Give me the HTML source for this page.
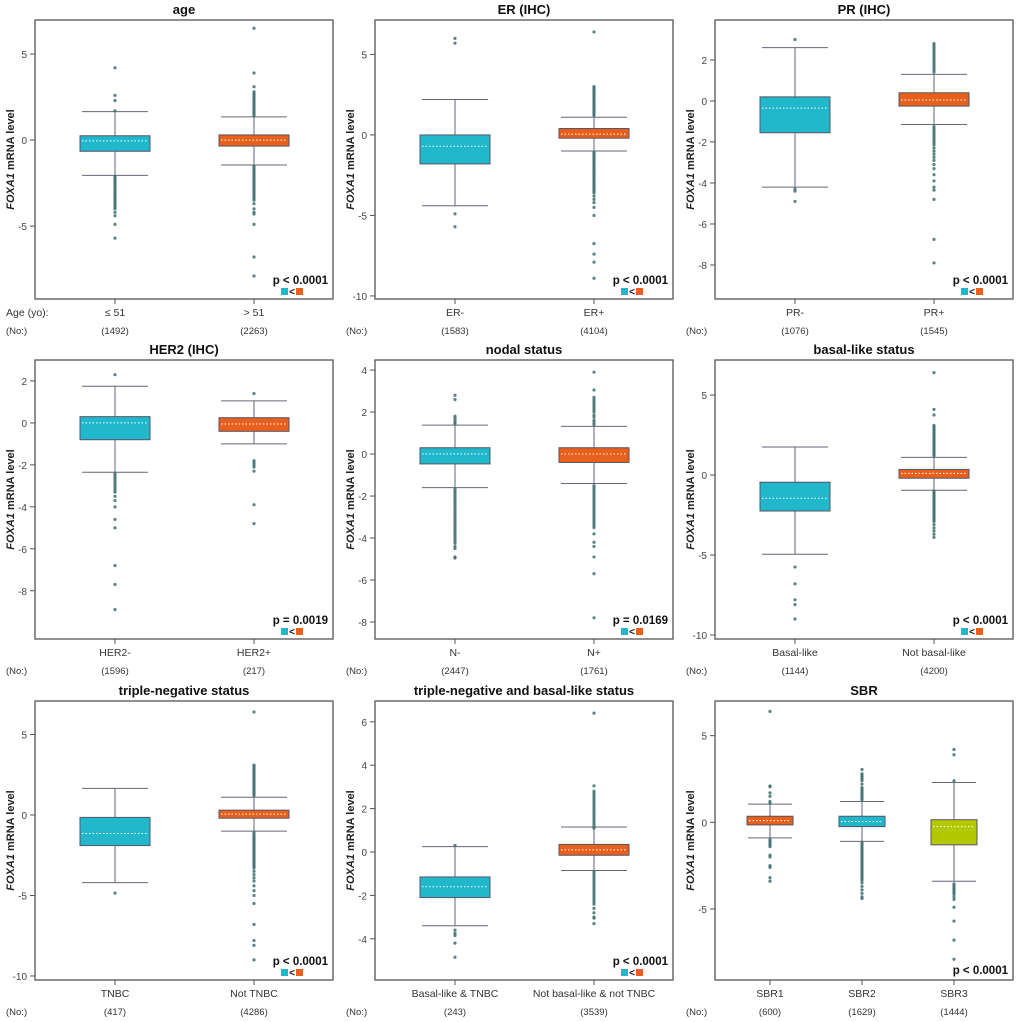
<!DOCTYPE html>
<html><head><meta charset="utf-8">
<style>
html,body{margin:0;padding:0;background:#fff;}
svg{display:block;font-family:"Liberation Sans",Arial,sans-serif;}
</style></head>
<body>
<svg id="fig" width="1020" height="1022" viewBox="0 0 1020 1022" xmlns="http://www.w3.org/2000/svg"></svg>
<script>
const TEAL="#22b8cc", ORANGE="#e8601c", GREEN="#b4c800";
const titles=["age","ER (IHC)","PR (IHC)","HER2 (IHC)","nodal status","basal-like status","triple-negative status","triple-negative and basal-like status","SBR"];
const domains=[[-9.24,6.98],[-10.19,7.14],[-9.66,3.95],[-10.3,3.0],[-8.81,4.48],[-10.25,7.19],[-10.25,7.08],[-5.9,6.96],[-9.1,7.0]];
const ticks=[[-5,0,5],[-10,-5,0,5],[-8,-6,-4,-2,0,2],[-8,-6,-4,-2,0,2],[-8,-6,-4,-2,0,2,4],[-10,-5,0,5],[-10,-5,0,5],[-4,-2,0,2,4,6],[-5,0,5]];
const groupLabels=[["≤ 51","> 51"],["ER-","ER+"],["PR-","PR+"],["HER2-","HER2+"],["N-","N+"],["Basal-like","Not basal-like"],["TNBC","Not TNBC"],["Basal-like & TNBC","Not basal-like & not TNBC"],["SBR1","SBR2","SBR3"]];
const counts=[["(1492)","(2263)"],["(1583)","(4104)"],["(1076)","(1545)"],["(1596)","(217)"],["(2447)","(1761)"],["(1144)","(4200)"],["(417)","(4286)"],["(243)","(3539)"],["(600)","(1629)","(1444)"]];
const pvals=["p < 0.0001","p < 0.0001","p < 0.0001","p = 0.0019","p = 0.0169","p < 0.0001","p < 0.0001","p < 0.0001","p < 0.0001"];
// stats per group: [lowWhisker, q1, median, q3, highWhisker]
const stats=[
 [[-2.05,-0.65,-0.05,0.25,1.65],[-1.45,-0.35,0,0.3,1.35]],
 [[-4.4,-1.8,-0.7,0,2.2],[-1.0,-0.2,0.05,0.4,1.1]],
 [[-4.2,-1.55,-0.35,0.2,2.6],[-1.15,-0.25,0.05,0.4,1.3]],
 [[-2.35,-0.8,0,0.3,1.75],[-1.0,-0.4,-0.05,0.25,1.05]],
 [[-1.6,-0.47,0,0.3,1.38],[-1.4,-0.4,0,0.3,1.32]],
 [[-4.95,-2.25,-1.45,-0.45,1.75],[-0.95,-0.2,0.1,0.35,1.1]],
 [[-4.2,-1.9,-1.15,-0.15,1.65],[-1.0,-0.2,0.05,0.3,1.1]],
 [[-3.4,-2.1,-1.6,-1.15,0.25],[-0.85,-0.15,0.1,0.35,1.15]],
 [[-0.9,-0.15,0.1,0.35,1.05],[-1.1,-0.25,0.05,0.35,1.2],[-3.4,-1.3,-0.25,0.15,2.3]]
];
const outliers=[
 [[4.2,2.6,2.3,1.7,-2.1,-2.2,-2.3,-2.4,-2.5,-2.6,-2.7,-2.8,-2.9,-3.0,-3.1,-3.2,-3.3,-3.4,-3.5,-3.6,-3.7,-3.8,-3.9,-4.0,-4.2,-4.4,-4.9,-5.7],
  [6.5,3.9,3.1,2.8,2.7,2.6,2.5,2.4,2.3,2.2,2.1,2.0,1.9,1.8,1.7,1.6,1.5,1.4,-1.5,-1.6,-1.7,-1.8,-1.9,-2.0,-2.1,-2.2,-2.3,-2.4,-2.5,-2.6,-2.7,-2.8,-2.9,-3.0,-3.1,-3.2,-3.3,-3.4,-3.5,-3.7,-4.0,-4.2,-4.3,-4.9,-6.8,-7.9]],
 [[6.0,5.7,-4.9,-5.7],
  [6.4,3.0,2.9,2.8,2.7,2.6,2.5,2.4,2.3,2.2,2.1,2.0,1.9,1.8,1.7,1.6,1.5,1.4,1.3,1.2,-1.1,-1.2,-1.3,-1.4,-1.5,-1.6,-1.7,-1.8,-1.9,-2.0,-2.1,-2.2,-2.3,-2.4,-2.5,-2.6,-2.7,-2.8,-2.9,-3.0,-3.1,-3.2,-3.3,-3.4,-3.5,-3.6,-3.8,-4.0,-4.2,-4.5,-5.0,-6.75,-7.4,-7.9,-8.9]],
 [[3.0,-4.3,-4.4,-4.9],
  [2.8,2.7,2.6,2.5,2.4,2.3,2.2,2.1,2.0,1.9,1.8,1.7,1.6,1.5,1.4,-1.25,-1.35,-1.45,-1.55,-1.65,-1.75,-1.85,-1.95,-2.05,-2.15,-2.3,-2.45,-2.6,-2.75,-2.9,-3.1,-3.3,-3.6,-3.9,-4.2,-4.35,-4.8,-6.75,-7.9]],
 [[2.3,-2.4,-2.5,-2.6,-2.7,-2.8,-2.9,-3.0,-3.1,-3.2,-3.3,-3.5,-3.7,-4.0,-4.6,-5.0,-6.8,-7.7,-8.9],
  [1.4,-1.8,-1.9,-2.0,-2.1,-2.3,-3.9,-4.8]],
 [[2.8,2.6,1.8,1.7,1.6,1.5,1.45,-1.65,-1.75,-1.85,-1.95,-2.05,-2.15,-2.25,-2.35,-2.45,-2.55,-2.65,-2.75,-2.85,-2.95,-3.05,-3.15,-3.25,-3.35,-3.45,-3.55,-3.65,-3.75,-3.85,-3.95,-4.05,-4.15,-4.25,-4.4,-4.5,-4.9,-4.95],
  [3.9,3.05,2.7,2.6,2.5,2.4,2.3,2.2,2.1,2.0,1.85,1.75,1.6,1.5,1.4,-1.5,-1.6,-1.7,-1.8,-1.9,-2.0,-2.1,-2.2,-2.3,-2.4,-2.5,-2.6,-2.7,-2.8,-2.9,-3.0,-3.1,-3.2,-3.3,-3.4,-3.5,-3.8,-4.2,-4.4,-4.9,-5.7,-7.8]],
 [[-5.75,-6.8,-7.8,-8.1,-9.0],
  [6.4,4.1,3.75,3.1,3.0,2.9,2.8,2.7,2.6,2.5,2.4,2.3,2.2,2.1,2.0,1.9,1.8,1.7,1.6,1.5,1.4,1.3,1.2,-1.0,-1.1,-1.2,-1.3,-1.4,-1.5,-1.6,-1.7,-1.8,-1.9,-2.0,-2.1,-2.2,-2.3,-2.4,-2.5,-2.6,-2.7,-2.8,-2.9,-3.1,-3.3,-3.5,-3.7,-3.9]],
 [[-4.85],
  [6.4,3.1,3.0,2.9,2.8,2.7,2.6,2.5,2.4,2.3,2.2,2.1,2.0,1.9,1.8,1.7,1.6,1.5,1.4,1.3,1.2,-1.1,-1.2,-1.3,-1.4,-1.5,-1.6,-1.7,-1.8,-1.9,-2.0,-2.1,-2.2,-2.3,-2.4,-2.5,-2.6,-2.7,-2.8,-2.9,-3.0,-3.1,-3.2,-3.3,-3.5,-3.7,-3.9,-4.1,-4.4,-4.7,-5.0,-5.5,-6.8,-7.8,-8.1,-9.0]],
 [[0.3,-3.6,-3.75,-3.85,-4.2,-4.85],
  [6.4,3.05,2.8,2.7,2.6,2.5,2.4,2.3,2.2,2.1,2.0,1.9,1.8,1.7,1.6,1.5,1.4,1.3,1.2,1.1,-0.9,-1.0,-1.1,-1.2,-1.3,-1.4,-1.5,-1.6,-1.7,-1.8,-1.9,-2.0,-2.1,-2.2,-2.3,-2.4,-2.6,-2.8,-3.0,-3.05,-3.3]],
 [[6.4,2.1,2.05,1.7,1.5,1.2,1.1,-1.0,-1.1,-1.2,-1.3,-1.4,-1.9,-2.0,-2.5,-2.6,-3.2,-3.4],
  [3.05,2.8,2.7,2.6,2.5,2.4,2.2,2.0,1.9,1.8,1.7,1.6,1.5,1.4,1.3,-1.15,-1.25,-1.35,-1.45,-1.55,-1.65,-1.75,-1.85,-1.95,-2.05,-2.15,-2.25,-2.35,-2.45,-2.55,-2.65,-2.75,-2.85,-2.95,-3.05,-3.15,-3.25,-3.35,-3.5,-3.7,-3.9,-4.1,-4.3,-4.4],
  [4.2,3.9,2.4,-3.55,-3.65,-3.75,-3.85,-3.95,-4.05,-4.15,-4.3,-4.45,-4.9,-5.7,-6.8,-7.9]]
];
const groupColors=[[TEAL,ORANGE],[TEAL,ORANGE],[TEAL,ORANGE],[TEAL,ORANGE],[TEAL,ORANGE],[TEAL,ORANGE],[TEAL,ORANGE],[TEAL,ORANGE],[ORANGE,TEAL,GREEN]];

const svg=document.getElementById('fig');
const NS="http://www.w3.org/2000/svg";
function mk(tag,attrs,parent){const e=document.createElementNS(NS,tag);for(const k in attrs)e.setAttribute(k,attrs[k]);parent.appendChild(e);return e;}
function txt(parent,x,y,s,size,anchor,weight,fill){const t=mk('text',{x:x,y:y,'font-size':size,'text-anchor':anchor||'middle','font-weight':weight||'normal',fill:fill||'#333'},parent);t.textContent=s;return t;}

const origins=[[0,0],[340,0],[680,0],[0,340],[340,340],[680,340],[0,681],[340,681],[680,681]];
for(let p=0;p<9;p++){
  const ox=origins[p][0], oy=origins[p][1];
  const g=mk('g',{},svg);
  
  
  const L=ox+35,R=ox+333,T=oy+20,B=oy+299;
  const [dmin,dmax]=domains[p];
  const yS=v=>B-(v-dmin)/(dmax-dmin)*(B-T);
  const n=groupLabels[p].length;
  const xS=i=> n===2 ? L+80+i*139 : L+55+i*92;
  const bw= n===2?70:46, cw= n===2?33:22;
  // title
  const tt=txt(g,(L+R)/2,oy+14,titles[p],13,'middle','bold','#111');
  
  
  // y ticks
  for(const t of ticks[p]){
    const y=yS(t);
    const tl=mk('line',{x1:L-5,x2:L,y1:y,y2:y,stroke:'#555','stroke-width':1},g);
    
    
    const lb=txt(g,L-8,y+4,String(t),10,'end','normal','#444');
    
    
  }
  // y axis title
  const yt=mk('text',{x:0,y:0,'font-size':11,'font-weight':'bold','text-anchor':'middle',fill:'#222',transform:`translate(${ox+14},${(T+B)/2}) rotate(-90)`},g);
  
  
  const it=mk('tspan',{'font-style':'italic'},yt); it.textContent='FOXA1';
  const rt=mk('tspan',{},yt); rt.textContent=' mRNA level';
  // groups
  for(let i=0;i<n;i++){
    const cx=xS(i), s=stats[p][i];
    const wl=mk('line',{x1:cx,x2:cx,y1:yS(s[4]),y2:yS(s[0]),stroke:'#667',"stroke-width":1},g);
    
    
    for(const w of [s[0],s[4]]){
      const c=mk('line',{x1:cx-cw,x2:cx+cw,y1:yS(w),y2:yS(w),stroke:'#667','stroke-width':1},g);
      
      
    }
    const bx=mk('rect',{x:cx-bw/2,y:yS(s[3]),width:bw,height:Math.max(1,yS(s[1])-yS(s[3])),fill:groupColors[p][i],stroke:'#556','stroke-width':1},g);
    
    
    const md=mk('line',{x1:cx-bw/2+2,x2:cx+bw/2-2,y1:yS(s[2]),y2:yS(s[2]),stroke:'#fff','stroke-width':1,'stroke-dasharray':'1.5,2'},g);
    
    
    for(const v of outliers[p][i]){
      const c=mk('circle',{cx:cx,cy:yS(v),r:1.6,fill:'#3e6e6e','fill-opacity':0.85},g);
      
      
    }
    const xt=mk('line',{x1:cx,x2:cx,y1:B,y2:B+5,stroke:'#555'},g);
    
    
    const gl=txt(g,cx,oy+316,groupLabels[p][i],10.5,'middle','normal','#333');
    
    
    const cl=txt(g,cx,oy+334,counts[p][i],9.5,'middle','normal','#333');
    
    
  }
  const no=txt(g,ox+6,oy+334,'(No:)',9.5,'start','normal','#333');
  
  
  if(p===0){
    const ag=txt(g,ox+6,oy+316,'Age (yo):',10.5,'start','normal','#333');
    
    
  }
  // frame
  const fr=mk('rect',{x:L,y:T,width:R-L,height:B-T,fill:'none',stroke:'#555','stroke-width':1.3},g);
  
  
  // p value & legend
  if(p===8){
    const pv=txt(g,R-5,B-6,pvals[p],11.5,'end','bold','#111');
    
    
  } else {
    const pv=txt(g,R-5,B-15,pvals[p],11.5,'end','bold','#111');
    
    
    const lx=R-52;
    const s1=mk('rect',{x:lx,y:B-11,width:7,height:7,fill:TEAL},g);
    
    
    const lt=txt(g,lx+11,B-4,'<',10,'middle','bold','#111');
    
    
    const s2=mk('rect',{x:lx+15,y:B-11,width:7,height:7,fill:ORANGE},g);
    
    
  }
}
</script>
</body></html>
